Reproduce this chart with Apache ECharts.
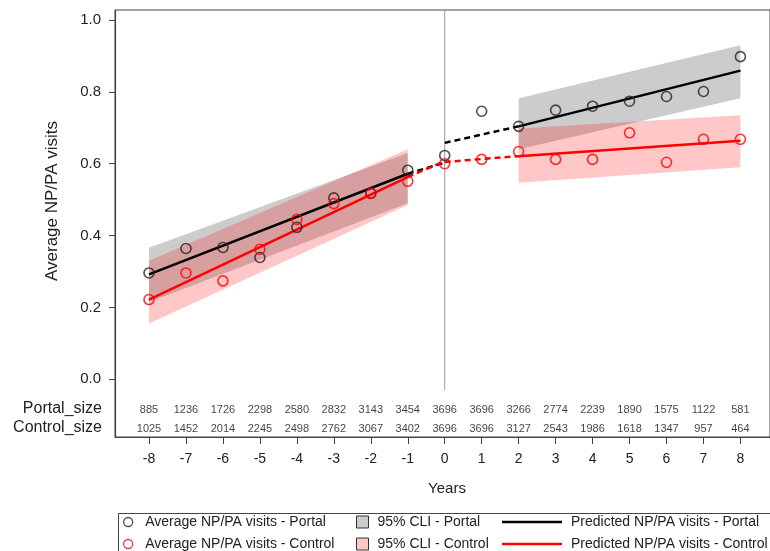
<!DOCTYPE html>
<html>
<head>
<meta charset="utf-8">
<script src="https://cdn.jsdelivr.net/npm/echarts@6/dist/echarts.min.js"></script>
<style>html,body{margin:0;padding:0;background:#fff;}#c{width:770px;height:551px;}</style>
</head>
<body>
<div id="c"></div>
<script>
// ---- data ----
const years = [-8,-7,-6,-5,-4,-3,-2,-1,0,1,2,3,4,5,6,7,8];
const yTicks = [0,0.2,0.4,0.6,0.8,1.0];
const portalAvg  = [0.296,0.364,0.367,0.339,0.423,0.505,0.518,0.582,0.623,0.746,0.704,0.749,0.760,0.774,0.787,0.801,0.898];
const controlAvg = [0.222,0.296,0.274,0.362,0.445,0.489,0.517,0.551,0.600,0.612,0.634,0.612,0.612,0.686,0.604,0.668,0.668];
const portalSize  = [885,1236,1726,2298,2580,2832,3143,3454,3696,3696,3266,2774,2239,1890,1575,1122,581];
const controlSize = [1025,1452,2014,2245,2498,2762,3067,3402,3696,3696,3127,2543,1986,1618,1347,957,464];

const predPreX = [-8,-1];
const predPostX = [2,8];
const dashPreX = [-1,0];
const dashPostX = [0,2];
const portalPredPre  = [0.292,0.572];
const portalPredPost = [0.704,0.859];
const portalDashPre  = [0.572,0.603];
const portalDashPost = [0.658,0.704];
const controlPredPre  = [0.222,0.563];
const controlPredPost = [0.621,0.664];
const controlDashPre  = [0.563,0.607];
const controlDashPost = [0.605,0.621];

const bandX   = [-8,-1,2,8];
const bandSeg = [0,0,1,1];
const portalBandLo  = [0.215,0.490,0.640,0.782];
const portalBandHi  = [0.366,0.630,0.782,0.930];
const controlBandLo = [0.155,0.485,0.547,0.590];
const controlBandHi = [0.330,0.640,0.698,0.735];

const NAMES = {
  pAvg:'Average NP/PA visits - Portal', cAvg:'Average NP/PA visits - Control',
  pCli:'95% CLI - Portal', cCli:'95% CLI - Control',
  pPred:'Predicted NP/PA visits - Portal', cPred:'Predicted NP/PA visits - Control'
};
const FONT = '"Liberation Sans", Arial, sans-serif';
const zip = (xs, ys) => xs.map((x,i)=>[x, ys[i]]);

function band(name, lo, hi, fill){
  const data = bandX.map((x,i)=>[x, lo[i], hi[i], bandSeg[i]]);
  return {
    type:'custom', name, silent:true, z:1,
    data, encode:{x:0, y:[1,2]},
    itemStyle:{color:fill},
    renderItem:(params, api)=>{
      const i = params.dataIndex, j = i+1;
      if (j >= data.length || data[j][3] !== data[i][3]) return null;
      const pts = [
        api.coord([data[i][0], data[i][2]]), api.coord([data[j][0], data[j][2]]),
        api.coord([data[j][0], data[j][1]]), api.coord([data[i][0], data[i][1]])
      ];
      return {type:'polygon', shape:{points:pts}, style:{fill}};
    }
  };
}
function line(name, xs, ys, color, dashed){
  return {type:'line', name, data:zip(xs,ys), symbol:'none', silent:true, z:3,
    lineStyle:{color, width:2.5, type: dashed ? [6,4] : 'solid'}, itemStyle:{color}};
}
function pts(name, ys, color){
  return {type:'scatter', name, data:zip(years,ys), symbol:'circle', symbolSize:10, z:4, silent:true,
    itemStyle:{color:'rgba(0,0,0,0)', borderColor:color, borderWidth:1.6}};
}
function tableRow(counts, yv){
  return {type:'scatter', data:years.map((x,i)=>[x, yv, counts[i]]), symbolSize:1, silent:true, z:5,
    itemStyle:{color:'rgba(0,0,0,0)'},
    label:{show:true, position:'inside', formatter:p=>String(p.data[2]), fontSize:11, fontFamily:FONT, color:'#111'}};
}
const legendText = (pad) => ({fontSize:14, lineHeight:16, color:'#222', padding:[0,0,0,pad], fontFamily:FONT});
const LINE_ICON = 'path://M0,0H60V2.5H0Z';

const chart = echarts.init(document.getElementById('c'), null, {renderer:'canvas'});
chart.setOption({
  animation:false,
  backgroundColor:'#fff',
  textStyle:{fontFamily:FONT},
  grid:{left:115, top:10, right:-5, bottom:114, show:true, borderColor:'#444', borderWidth:1},
  xAxis:{type:'value', min:-8.92, max:8.8,
    axisLine:{show:true, onZero:false, lineStyle:{color:'#444', width:1.2}},
    axisTick:{show:true, customValues:years, length:7, lineStyle:{color:'#444'}},
    axisLabel:{customValues:years, fontSize:14, color:'#222', margin:15, fontFamily:FONT},
    splitLine:{show:false}},
  yAxis:{type:'value', min:-0.1606, max:1.0278,
    axisLine:{show:true, onZero:false, lineStyle:{color:'#444', width:1.2}},
    axisTick:{show:true, customValues:yTicks, length:6, lineStyle:{color:'#444'}},
    axisLabel:{customValues:yTicks, formatter:v=>v.toFixed(1), fontSize:15, color:'#222', margin:14, fontFamily:FONT},
    splitLine:{show:false}},
  legend:[
    {left:123, top:514, height:40, padding:0, orient:'vertical', itemWidth:14, itemHeight:9, itemGap:6, selectedMode:false,
     textStyle:legendText(5),
     data:[{name:NAMES.pAvg, icon:'circle', itemStyle:{color:'rgba(0,0,0,0)', borderColor:'#222', borderWidth:1.3}},
           {name:NAMES.cAvg, icon:'circle', itemStyle:{color:'rgba(0,0,0,0)', borderColor:'#ff0000', borderWidth:1.3}}]},
    {left:356, top:514, height:40, padding:0, orient:'vertical', itemWidth:12, itemHeight:12, itemGap:6, selectedMode:false,
     textStyle:legendText(4),
     data:[{name:NAMES.pCli, icon:'rect', itemStyle:{color:'#cccccc', borderColor:'#333', borderWidth:1}},
           {name:NAMES.cCli, icon:'rect', itemStyle:{color:'#ffc7c7', borderColor:'#333', borderWidth:1}}]},
    {left:502, top:514, height:40, padding:0, orient:'vertical', itemWidth:60, itemHeight:12, itemGap:6, selectedMode:false,
     textStyle:legendText(4),
     data:[{name:NAMES.pPred, icon:LINE_ICON, itemStyle:{color:'#000', borderWidth:0}},
           {name:NAMES.cPred, icon:LINE_ICON, itemStyle:{color:'#ff0000', borderWidth:0}}]}
  ],
  graphic:[
    {type:'rect', shape:{x:118.5, y:513.5, width:700, height:60}, style:{fill:'none', stroke:'#444', lineWidth:1}, silent:true, z:-1},
    {type:'text', x:52, y:201, rotation:Math.PI/2, style:{text:'Average NP/PA visits', font:'17px '+FONT, fill:'#222', textAlign:'center', textVerticalAlign:'middle'}},
    {type:'text', x:447, y:489, style:{text:'Years', font:'15px '+FONT, fill:'#222', textAlign:'center', textVerticalAlign:'middle'}},
    {type:'text', x:102, y:409, style:{text:'Portal_size', font:'16px '+FONT, fill:'#222', textAlign:'right', textVerticalAlign:'middle'}},
    {type:'text', x:102, y:428, style:{text:'Control_size', font:'16px '+FONT, fill:'#222', textAlign:'right', textVerticalAlign:'middle'}}
  ],
  series:[
    band(NAMES.pCli, portalBandLo, portalBandHi, '#cccccc'),
    band(NAMES.cCli, controlBandLo, controlBandHi, 'rgba(255,0,0,0.22)'),
    {type:'line', name:'ref0', data:[[0,-0.03],[0,1.0278]], symbol:'none', silent:true, z:2,
     lineStyle:{color:'#999', width:1}},
    line(NAMES.pPred, predPreX, portalPredPre, '#000', false),
    line(NAMES.pPred, predPostX, portalPredPost, '#000', false),
    line('pDashPre', dashPreX, portalDashPre, '#000', true),
    line('pDashPost', dashPostX, portalDashPost, '#000', true),
    line(NAMES.cPred, predPreX, controlPredPre, '#ff0000', false),
    line(NAMES.cPred, predPostX, controlPredPost, '#ff0000', false),
    line('cDashPre', dashPreX, controlDashPre, '#ff0000', true),
    line('cDashPost', dashPostX, controlDashPost, '#ff0000', true),
    pts(NAMES.pAvg, portalAvg, '#222'),
    pts(NAMES.cAvg, controlAvg, '#ff0000'),
    tableRow(portalSize, -0.0844),
    tableRow(controlSize, -0.1373)
  ]
});
</script>
</body>
</html>
